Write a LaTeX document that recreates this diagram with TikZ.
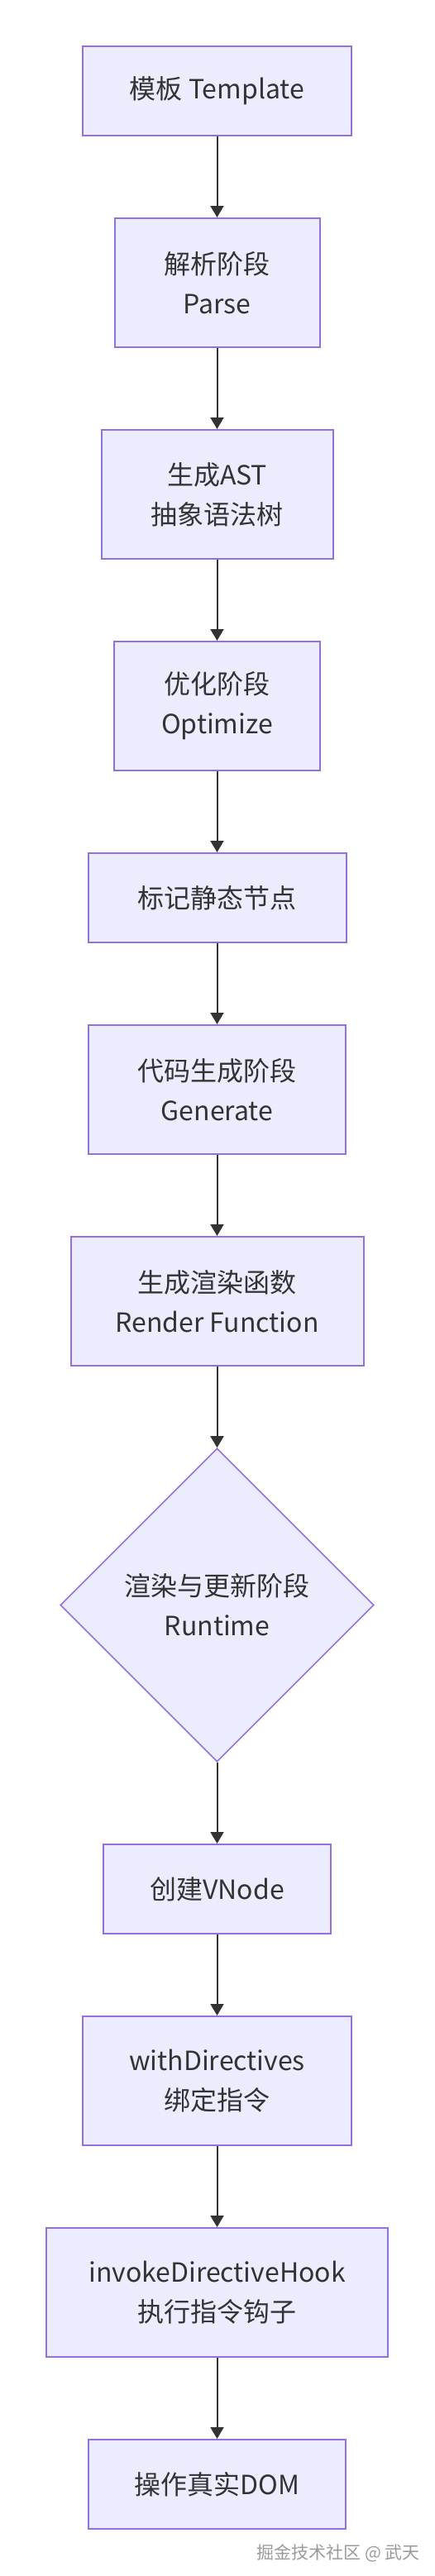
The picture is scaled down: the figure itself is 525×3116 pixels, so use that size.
\documentclass[tikz,border=0pt]{standalone}
\usepackage{fontspec}
\setmainfont{Noto Sans CJK SC}
\usetikzlibrary{arrows.meta,shapes.geometric}
\definecolor{nodefill}{HTML}{ECECFF}
\definecolor{nodeline}{HTML}{9370DB}
\definecolor{ink}{HTML}{333333}
\definecolor{wmark}{HTML}{9A9A9A}
\begin{document}
\begin{tikzpicture}[x=1pt,y=-1pt,
  box/.style={draw=nodeline, fill=nodefill, line width=2pt, rectangle, inner sep=0pt,
    align=center, text=ink, font=\fontsize{32}{48}\selectfont},
  onel/.style={box, minimum height=108pt},
  twol/.style={box, minimum height=156pt},
  dia/.style={box, diamond, line width=1.6pt, minimum width=379pt, minimum height=379pt},
  flow/.style={draw=ink, line width=2pt, -{Triangle[width=16pt,length=14pt]}}]
\useasboundingbox (0,0) rectangle (525,3116);
\node[onel, minimum width=325pt] (n1) at (262.5,110) {模板 Template};
\node[twol, minimum width=248pt] (n2) at (262.5,342) {解析阶段\\Parse};
\node[twol, minimum width=280pt] (n3) at (262.5,598) {生成AST\\抽象语法树};
\node[twol, minimum width=249pt] (n4) at (262.5,854) {优化阶段\\Optimize};
\node[onel, minimum width=312pt] (n5) at (262.5,1086) {标记静态节点};
\node[twol, minimum width=311pt] (n6) at (262.5,1318) {代码生成阶段\\Generate};
\node[twol, minimum width=354pt] (n7) at (262.5,1574) {生成渲染函数\\Render Function};
\node[dia] (n8) at (262.5,1941.5) {渲染与更新阶段\\Runtime};
\node[onel, minimum width=275pt] (n9) at (262.5,2285) {创建VNode};
\node[twol, minimum width=325pt] (n10) at (262.5,2517) {withDirectives\\绑定指令};
\node[twol, minimum width=413pt] (n11) at (262.5,2773) {invokeDirectiveHook\\执行指令钩子};
\node[onel, minimum width=311pt] (n12) at (262.5,3005) {操作真实DOM};
\draw[flow] (n1) -- (n2);
\draw[flow] (n2) -- (n3);
\draw[flow] (n3) -- (n4);
\draw[flow] (n4) -- (n5);
\draw[flow] (n5) -- (n6);
\draw[flow] (n6) -- (n7);
\draw[flow] (n7) -- (n8);
\draw[flow] (n8) -- (n9);
\draw[flow] (n9) -- (n10);
\draw[flow] (n10) -- (n11);
\draw[flow] (n11) -- (n12);
\node[anchor=east, inner sep=0pt, text=wmark, font=\fontsize{21}{24}\selectfont] (wm) at (508,3088) {掘金技术社区 @ 武天};
\end{tikzpicture}
\end{document}
